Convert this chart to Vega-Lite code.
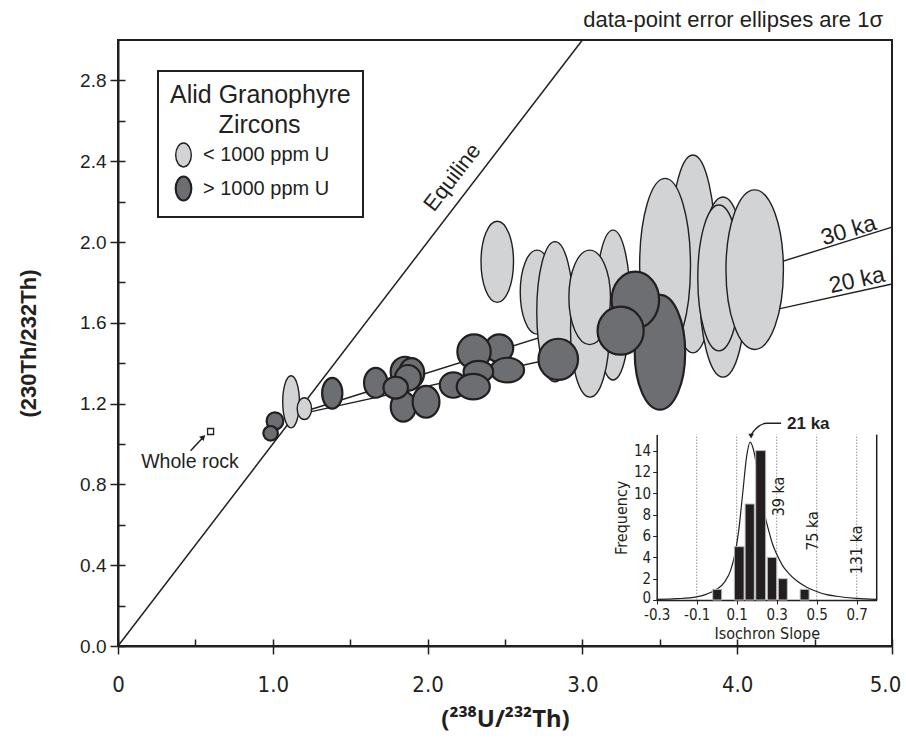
{
  "$schema": "https://vega.github.io/schema/vega-lite/v6.json",
  "width": 774,
  "height": 606,
  "autosize": {"type": "none"},
  "padding": {"left": 118, "top": 40, "right": 14, "bottom": 96},
  "background": "white",
  "config": {
    "view": {"stroke": "#231f20", "strokeWidth": 2},
    "font": "Liberation Sans",
    "axis": {"grid": false, "domainColor": "#231f20", "tickColor": "#231f20", "labelColor": "#231f20", "titleColor": "#231f20", "labelFlush": false, "labelOverlap": false, "labelBound": false},
    "legend": {"strokeWidth": 2},
    "text": {"color": "#231f20"}
  },
  "datasets": {
    "ellipses": [
      {"x": 1.014, "y": 1.114, "sx": 0.054, "sy": 0.043, "group": "> 1000 ppm U"},
      {"x": 0.986, "y": 1.053, "sx": 0.047, "sy": 0.036, "group": "> 1000 ppm U"},
      {"x": 1.118, "y": 1.209, "sx": 0.054, "sy": 0.129, "group": "< 1000 ppm U"},
      {"x": 1.204, "y": 1.175, "sx": 0.047, "sy": 0.054, "group": "< 1000 ppm U"},
      {"x": 1.384, "y": 1.251, "sx": 0.067, "sy": 0.076, "group": "> 1000 ppm U"},
      {"x": 1.665, "y": 1.303, "sx": 0.076, "sy": 0.074, "group": "> 1000 ppm U"},
      {"x": 1.843, "y": 1.185, "sx": 0.079, "sy": 0.074, "group": "> 1000 ppm U"},
      {"x": 1.990, "y": 1.209, "sx": 0.086, "sy": 0.079, "group": "> 1000 ppm U"},
      {"x": 1.854, "y": 1.358, "sx": 0.090, "sy": 0.074, "group": "> 1000 ppm U"},
      {"x": 1.897, "y": 1.351, "sx": 0.084, "sy": 0.074, "group": "> 1000 ppm U"},
      {"x": 1.873, "y": 1.327, "sx": 0.084, "sy": 0.064, "group": "> 1000 ppm U"},
      {"x": 1.794, "y": 1.279, "sx": 0.079, "sy": 0.054, "group": "> 1000 ppm U"},
      {"x": 2.463, "y": 1.474, "sx": 0.090, "sy": 0.069, "group": "> 1000 ppm U"},
      {"x": 2.300, "y": 1.457, "sx": 0.108, "sy": 0.086, "group": "> 1000 ppm U"},
      {"x": 2.515, "y": 1.366, "sx": 0.108, "sy": 0.061, "group": "> 1000 ppm U"},
      {"x": 2.328, "y": 1.358, "sx": 0.097, "sy": 0.054, "group": "> 1000 ppm U"},
      {"x": 2.166, "y": 1.292, "sx": 0.086, "sy": 0.063, "group": "> 1000 ppm U"},
      {"x": 2.295, "y": 1.284, "sx": 0.108, "sy": 0.063, "group": "> 1000 ppm U"},
      {"x": 2.450, "y": 1.902, "sx": 0.103, "sy": 0.201, "group": "< 1000 ppm U"},
      {"x": 2.707, "y": 1.752, "sx": 0.110, "sy": 0.208, "group": "< 1000 ppm U"},
      {"x": 2.823, "y": 1.655, "sx": 0.118, "sy": 0.347, "group": "< 1000 ppm U"},
      {"x": 3.198, "y": 1.688, "sx": 0.110, "sy": 0.371, "group": "< 1000 ppm U"},
      {"x": 3.049, "y": 1.564, "sx": 0.129, "sy": 0.332, "group": "< 1000 ppm U"},
      {"x": 3.047, "y": 1.726, "sx": 0.131, "sy": 0.234, "group": "< 1000 ppm U"},
      {"x": 3.714, "y": 1.941, "sx": 0.152, "sy": 0.490, "group": "< 1000 ppm U"},
      {"x": 3.534, "y": 1.881, "sx": 0.161, "sy": 0.434, "group": "< 1000 ppm U"},
      {"x": 3.908, "y": 1.777, "sx": 0.149, "sy": 0.446, "group": "< 1000 ppm U"},
      {"x": 3.882, "y": 1.822, "sx": 0.136, "sy": 0.361, "group": "< 1000 ppm U"},
      {"x": 4.113, "y": 1.863, "sx": 0.185, "sy": 0.395, "group": "< 1000 ppm U"},
      {"x": 2.844, "y": 1.419, "sx": 0.129, "sy": 0.102, "group": "> 1000 ppm U"},
      {"x": 3.501, "y": 1.454, "sx": 0.161, "sy": 0.284, "group": "> 1000 ppm U"},
      {"x": 3.342, "y": 1.713, "sx": 0.153, "sy": 0.140, "group": "> 1000 ppm U"},
      {"x": 3.247, "y": 1.561, "sx": 0.147, "sy": 0.119, "group": "> 1000 ppm U"}
    ],
    "isochrons": [
      {"age": "30 ka", "x": 1.25, "y": 1.172},
      {"age": "30 ka", "x": 5.0, "y": 2.074},
      {"age": "20 ka", "x": 1.25, "y": 1.160},
      {"age": "20 ka", "x": 5.0, "y": 1.792}
    ],
    "bars": [
      {"lo": -0.02, "hi": 0.025, "freq": 1},
      {"lo": 0.088, "hi": 0.137, "freq": 5},
      {"lo": 0.142, "hi": 0.188, "freq": 9},
      {"lo": 0.195, "hi": 0.245, "freq": 14},
      {"lo": 0.253, "hi": 0.300, "freq": 4},
      {"lo": 0.308, "hi": 0.353, "freq": 2},
      {"lo": 0.417, "hi": 0.462, "freq": 1}
    ],
    "curve": [
      {"slope": -0.3, "freq": 0.05}, {"slope": -0.2, "freq": 0.12}, {"slope": -0.1, "freq": 0.3},
      {"slope": -0.05, "freq": 0.55}, {"slope": 0.0, "freq": 1.0}, {"slope": 0.04, "freq": 1.7},
      {"slope": 0.07, "freq": 2.8}, {"slope": 0.09, "freq": 4.2}, {"slope": 0.11, "freq": 6.5},
      {"slope": 0.13, "freq": 10.0}, {"slope": 0.15, "freq": 13.5}, {"slope": 0.167, "freq": 14.8},
      {"slope": 0.185, "freq": 14.0}, {"slope": 0.2, "freq": 12.5}, {"slope": 0.22, "freq": 10.0},
      {"slope": 0.24, "freq": 8.0}, {"slope": 0.26, "freq": 6.5}, {"slope": 0.28, "freq": 5.2},
      {"slope": 0.3, "freq": 4.3}, {"slope": 0.33, "freq": 3.2}, {"slope": 0.36, "freq": 2.5},
      {"slope": 0.4, "freq": 1.8}, {"slope": 0.45, "freq": 1.2}, {"slope": 0.5, "freq": 0.8},
      {"slope": 0.55, "freq": 0.5}, {"slope": 0.6, "freq": 0.35}, {"slope": 0.7, "freq": 0.15},
      {"slope": 0.8, "freq": 0.05}
    ],
    "gridlines": [
      {"slope": -0.1, "f0": 0, "f1": 15.5},
      {"slope": 0.1, "f0": 0, "f1": 15.5},
      {"slope": 0.3, "f0": 0, "f1": 15.5},
      {"slope": 0.5, "f0": 0, "f1": 15.5},
      {"slope": 0.7, "f0": 0, "f1": 15.5}
    ]
  },
  "layer": [
    {
      "encoding": {
        "x": {"field": "x", "type": "quantitative", "scale": {"domain": [0, 5], "nice": false, "zero": false}, "axis": null},
        "y": {"field": "y", "type": "quantitative", "scale": {"domain": [0, 3], "nice": false, "zero": false}, "axis": null}
      },
      "layer": [
        {
          "data": {"values": [{"x": 0, "y": 0}, {"x": 3, "y": 3}]},
          "mark": {"type": "line", "color": "#231f20", "strokeWidth": 1.5},
          "encoding": {
            "x": {"field": "x", "type": "quantitative", "scale": {"domain": [0, 5], "nice": false, "zero": false},
              "axis": {"orient": "bottom", "values": [0, 1, 2, 3, 4, 5], "labelExpr": "datum.value == 0 ? '0' : format(datum.value, '.1f')", "labelOffset": {"condition": {"test": "datum.value == 5", "value": -7}, "value": 0}, "tickSize": 8, "tickWidth": 1.5, "domainWidth": 2, "labelFontSize": 22, "labelFont": "Liberation Sans Narrow, DejaVu Sans Condensed, Liberation Sans", "labelPadding": 20, "title": "(²³⁸U/²³²Th)", "titleFont": "Noto Sans", "titleFontSize": 24, "titleFontWeight": "bold", "titleY": 80, "titleBaseline": "alphabetic"}},
            "y": {"field": "y", "type": "quantitative", "scale": {"domain": [0, 3], "nice": false, "zero": false},
              "axis": {"orient": "left", "values": [0, 0.4, 0.8, 1.2, 1.6, 2.0, 2.4, 2.8], "format": ".1f", "tickSize": 8, "tickWidth": 1.5, "domainWidth": 2, "labelFontSize": 19, "labelPadding": 4, "title": "(230Th/232Th)", "titleFontSize": 22, "titleFontWeight": "bold", "titleAngle": -90, "titleX": -90, "titleY": 303, "titleAlign": "center", "titleBaseline": "middle"}}
          }
        },
        {
          "data": {"name": "isochrons"},
          "mark": {"type": "line", "color": "#231f20", "strokeWidth": 1.4},
          "encoding": {
            "detail": {"field": "age"},
            "x": {"field": "x", "type": "quantitative", "scale": {"domain": [0, 5], "nice": false, "zero": false},
              "axis": {"orient": "bottom", "values": [0, 0.5, 1, 1.5, 2, 2.5, 3, 3.5, 4, 4.5, 5], "tickSize": -7, "tickWidth": 1.5, "labels": false, "domain": false, "title": null}},
            "y": {"field": "y", "type": "quantitative", "scale": {"domain": [0, 3], "nice": false, "zero": false},
              "axis": {"orient": "left", "values": [0, 0.2, 0.4, 0.6, 0.8, 1.0, 1.2, 1.4, 1.6, 1.8, 2.0, 2.2, 2.4, 2.6, 2.8], "tickSize": -7, "tickWidth": 1.5, "labels": false, "domain": false, "title": null}}
          }
        },
        {
          "data": {"name": "ellipses"},
          "transform": [{"calculate": "datum.sx / datum.sy", "as": "aspect"}],
          "mark": {"type": "point", "filled": true, "opacity": 1, "stroke": "#231f20"},
          "encoding": {
            "fill": {"field": "group", "type": "nominal", "scale": {"domain": ["< 1000 ppm U", "> 1000 ppm U"], "range": ["#d1d3d4", "#6d6e71"]},
              "legend": {"orient": "none", "legendX": 40, "legendY": 31, "title": ["Alid Granophyre", "\u200b\u00a0\u00a0\u00a0\u00a0\u00a0\u00a0\u00a0Zircons"], "titleLimit": 400, "titleFontSize": 25, "titleFontWeight": "normal", "titleColor": "#231f20", "titleAnchor": "start", "titleAlign": "left", "titleLineHeight": 30, "titlePadding": 4, "labelFontSize": 20, "labelLimit": 300, "labelColor": "#231f20", "labelOffset": 6, "symbolType": "M0,-1A0.65,1 0 0,1 0,1A0.65,1 0 0,1 0,-1Z", "symbolSize": 576, "symbolStrokeColor": "#231f20", "symbolStrokeWidth": 1.6, "symbolOpacity": 1, "strokeColor": "#231f20", "fillColor": "white", "padding": 12, "rowPadding": 2}},
            "size": {"field": "sy", "type": "quantitative", "scale": {"type": "pow", "exponent": 2, "domain": [0, 1], "range": [0, 163216]}, "legend": null},
            "strokeWidth": {"field": "group", "type": "nominal", "scale": {"domain": ["< 1000 ppm U", "> 1000 ppm U"], "range": [1.4, 2.2]}, "legend": null},
            "shape": {"field": "aspect", "type": "quantitative", "legend": null,
              "scale": {"type": "threshold",
                "domain": [0.3197, 0.3589, 0.398, 0.4437, 0.4959, 0.5481, 0.6133, 0.7047, 0.8091, 0.9004, 0.9787, 1.057, 1.1353, 1.2136, 1.2789, 1.3441, 1.4224, 1.5138, 1.6312, 1.7356],
                "range": [
                  "M0,-1A0.23,1 0 0,1 0,1A0.23,1 0 0,1 0,-1Z",
                  "M0,-1A0.26,1 0 0,1 0,1A0.26,1 0 0,1 0,-1Z",
                  "M0,-1A0.29,1 0 0,1 0,1A0.29,1 0 0,1 0,-1Z",
                  "M0,-1A0.32,1 0 0,1 0,1A0.32,1 0 0,1 0,-1Z",
                  "M0,-1A0.36,1 0 0,1 0,1A0.36,1 0 0,1 0,-1Z",
                  "M0,-1A0.4,1 0 0,1 0,1A0.4,1 0 0,1 0,-1Z",
                  "M0,-1A0.44,1 0 0,1 0,1A0.44,1 0 0,1 0,-1Z",
                  "M0,-1A0.5,1 0 0,1 0,1A0.5,1 0 0,1 0,-1Z",
                  "M0,-1A0.58,1 0 0,1 0,1A0.58,1 0 0,1 0,-1Z",
                  "M0,-1A0.66,1 0 0,1 0,1A0.66,1 0 0,1 0,-1Z",
                  "M0,-1A0.72,1 0 0,1 0,1A0.72,1 0 0,1 0,-1Z",
                  "M0,-1A0.78,1 0 0,1 0,1A0.78,1 0 0,1 0,-1Z",
                  "M0,-1A0.84,1 0 0,1 0,1A0.84,1 0 0,1 0,-1Z",
                  "M0,-1A0.9,1 0 0,1 0,1A0.9,1 0 0,1 0,-1Z",
                  "M0,-1A0.96,1 0 0,1 0,1A0.96,1 0 0,1 0,-1Z",
                  "M0,-1A1,1 0 0,1 0,1A1,1 0 0,1 0,-1Z",
                  "M0,-1A1.06,1 0 0,1 0,1A1.06,1 0 0,1 0,-1Z",
                  "M0,-1A1.12,1 0 0,1 0,1A1.12,1 0 0,1 0,-1Z",
                  "M0,-1A1.2,1 0 0,1 0,1A1.2,1 0 0,1 0,-1Z",
                  "M0,-1A1.3,1 0 0,1 0,1A1.3,1 0 0,1 0,-1Z",
                  "M0,-1A1.36,1 0 0,1 0,1A1.36,1 0 0,1 0,-1Z"
                ]}}
          }
        },
        {
          "data": {"values": [{"x": 0.598, "y": 1.062}]},
          "mark": {"type": "point", "shape": "square", "size": 36, "filled": true, "fill": "white", "stroke": "#231f20", "strokeWidth": 1.3, "opacity": 1}
        },
        {
          "data": {"values": [{"x": 0.469, "y": 0.967, "x2": 0.546, "y2": 1.03}]},
          "mark": {"type": "rule", "color": "#231f20", "strokeWidth": 1.5},
          "encoding": {"x2": {"field": "x2"}, "y2": {"field": "y2"}}
        },
        {
          "data": {"values": [{"x": 0.551, "y": 1.035}]},
          "mark": {"type": "point", "shape": "triangle-up", "size": 40, "angle": 45, "filled": true, "color": "#231f20", "opacity": 1}
        },
        {
          "data": {"values": [{"x": 0.465, "y": 0.911, "label": "Whole rock"}]},
          "mark": {"type": "text", "fontSize": 19.5, "align": "center", "baseline": "middle"},
          "encoding": {"text": {"field": "label"}}
        },
        {
          "data": {"values": [{"x": 2.16, "y": 2.32, "label": "Equiline"}]},
          "mark": {"type": "text", "fontSize": 22, "angle": -52.5, "align": "center", "baseline": "middle"},
          "encoding": {"text": {"field": "label"}}
        },
        {
          "data": {"values": [{"x": 4.72, "y": 2.056, "label": "30 ka"}]},
          "mark": {"type": "text", "fontSize": 23, "angle": -17, "align": "center", "baseline": "middle"},
          "encoding": {"text": {"field": "label"}}
        },
        {
          "data": {"values": [{"x": 4.774, "y": 1.81, "label": "20 ka"}]},
          "mark": {"type": "text", "fontSize": 23, "angle": -12.5, "align": "center", "baseline": "middle"},
          "encoding": {"text": {"field": "label"}}
        },
        {
          "data": {"values": [{"x": 4.942, "y": 3.064, "label": "data-point error ellipses are 1σ"}]},
          "mark": {"type": "text", "fontSize": 22, "align": "right", "baseline": "alphabetic"},
          "encoding": {"text": {"field": "label"}}
        }
      ],
      "resolve": {"axis": {"x": "independent", "y": "independent"}}
    },
    {
      "encoding": {
        "x": {"field": "slope", "type": "quantitative", "scale": {"domain": [-0.3, 0.8], "range": [538.7, 758.7], "nice": false, "zero": false}, "axis": null},
        "y": {"field": "freq", "type": "quantitative", "scale": {"domain": [0, 15.5], "range": [560, 394.6], "nice": false, "zero": false}, "axis": null}
      },
      "layer": [
        {
          "data": {"name": "gridlines"},
          "mark": {"type": "rule", "color": "#939598", "strokeWidth": 1, "strokeDash": [1.5, 1.5]},
          "encoding": {"y": {"field": "f0", "type": "quantitative", "scale": {"domain": [0, 15.5], "range": [560, 394.6], "nice": false, "zero": false}, "axis": null}, "y2": {"field": "f1"}}
        },
        {
          "data": {"values": [{"slope": 0.8, "f0": 0, "f1": 15.5}]},
          "mark": {"type": "rule", "color": "#231f20", "strokeWidth": 1.5},
          "encoding": {"y": {"field": "f0", "type": "quantitative", "scale": {"domain": [0, 15.5], "range": [560, 394.6], "nice": false, "zero": false}, "axis": null}, "y2": {"field": "f1"}}
        },
        {
          "data": {"name": "curve"},
          "mark": {"type": "line", "color": "#231f20", "strokeWidth": 1.2, "interpolate": "monotone"}
        },
        {
          "data": {"name": "bars"},
          "mark": {"type": "rect", "fill": "#231f20", "stroke": "#bcbec0", "strokeWidth": 1},
          "encoding": {
            "x": {"field": "lo", "type": "quantitative", "scale": {"domain": [-0.3, 0.8], "range": [538.7, 758.7], "nice": false, "zero": false},
              "axis": {"orient": "bottom", "offset": -46, "values": [-0.3, -0.1, 0.1, 0.3, 0.5, 0.7], "labelExpr": "replace(format(datum.value, '.1f'), '−', '-')", "tickSize": 4, "tickWidth": 1, "domainWidth": 1.5, "labelFont": "Liberation Sans Narrow, DejaVu Sans Condensed, Liberation Sans", "labelFontSize": 15, "labelPadding": 3, "title": "Isochron Slope", "titleFont": "Liberation Sans Narrow, DejaVu Sans Condensed, Liberation Sans", "titleFontSize": 16, "titleFontWeight": "normal", "titlePadding": 3}},
            "x2": {"field": "hi"},
            "y": {"field": "freq", "type": "quantitative", "scale": {"domain": [0, 15.5], "range": [560, 394.6], "nice": false, "zero": false},
              "axis": {"orient": "left", "offset": -538.7, "values": [0, 2, 4, 6, 8, 10, 12, 14], "labelOffset": {"condition": {"test": "datum.value == 0", "value": -3}, "value": 0}, "tickSize": 4, "tickWidth": 1, "domainWidth": 1.5, "labelFont": "Liberation Sans Narrow, DejaVu Sans Condensed, Liberation Sans", "labelFontSize": 15, "labelPadding": 2, "title": "Frequency", "titleFont": "Liberation Sans Narrow, DejaVu Sans Condensed, Liberation Sans", "titleFontSize": 16, "titleFontWeight": "normal", "titlePadding": 4}},
            "y2": {"datum": 0}
          }
        },
        {
          "data": {"values": [{"slope": 0.312, "freq": 9.7, "label": "39 ka"}, {"slope": 0.483, "freq": 6.47, "label": "75 ka"}, {"slope": 0.7, "freq": 4.7, "label": "131 ka"}]},
          "mark": {"type": "text", "angle": -90, "fontSize": 16, "font": "Liberation Sans Narrow, DejaVu Sans Condensed, Liberation Sans", "align": "center", "baseline": "middle"},
          "encoding": {"text": {"field": "label"}}
        },
        {
          "data": {"values": [{"slope": 0.458, "freq": 16.5, "label": "21 ka"}]},
          "mark": {"type": "text", "fontSize": 17, "fontWeight": "bold", "align": "center", "baseline": "middle"},
          "encoding": {"text": {"field": "label"}}
        },
        {
          "data": {"values": [{"slope": 0.322, "freq": 16.56}, {"slope": 0.25, "freq": 16.56}, {"slope": 0.208, "freq": 16.25}, {"slope": 0.183, "freq": 15.78}, {"slope": 0.173, "freq": 15.5}]},
          "mark": {"type": "line", "color": "#231f20", "strokeWidth": 1.4, "interpolate": "monotone"}
        },
        {
          "data": {"values": [{"slope": 0.172, "freq": 15.35}]},
          "mark": {"type": "point", "shape": "triangle-down", "size": 30, "filled": true, "color": "#231f20", "opacity": 1}
        }
      ],
      "resolve": {"axis": {"x": "independent", "y": "independent"}}
    }
  ],
  "resolve": {"scale": {"x": "independent", "y": "independent"}, "axis": {"x": "independent", "y": "independent"}}
}
